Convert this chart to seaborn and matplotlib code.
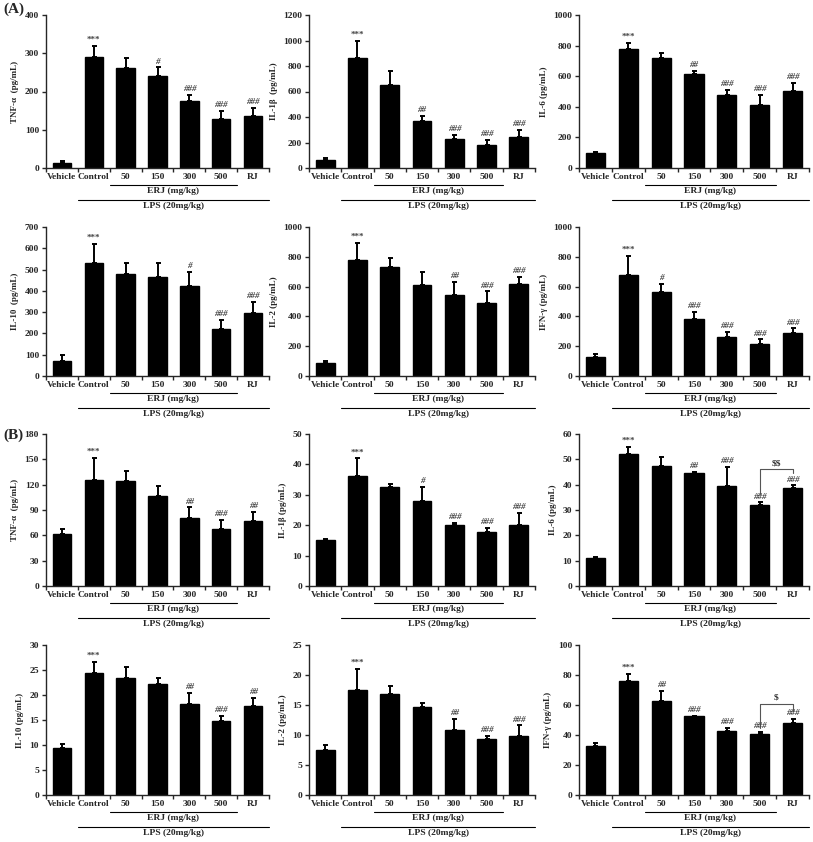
import numpy as np
import matplotlib
matplotlib.use("Agg")
import matplotlib.pyplot as plt
import matplotlib.transforms as mtransforms
import seaborn as sns

# ==========================================
# DATA
# ==========================================

groups = ["Vehicle", "Control", "50", "150", "300", "500", "RJ"]

# (A)
a_tnf_mean = [13, 290, 262, 241, 174, 128, 136]
a_tnf_sd = [5, 30, 25, 22, 16, 22, 22]
a_tnf_sig = ["", "***", "", "#", "###", "###", "###"]

a_il1b_mean = [61, 860, 652, 372, 228, 182, 242]
a_il1b_sd = [15, 140, 105, 38, 34, 36, 56]
a_il1b_sig = ["", "***", "", "##", "###", "###", "###"]

a_il6_mean = [95, 780, 722, 613, 475, 410, 505]
a_il6_sd = [10, 38, 30, 19, 33, 65, 50]
a_il6_sig = ["", "***", "", "##", "###", "###", "###"]

a_il10_mean = [72, 530, 478, 463, 425, 220, 298]
a_il10_sd = [25, 90, 54, 69, 65, 45, 50]
a_il10_sig = ["", "***", "", "", "#", "###", "###"]

a_il2_mean = [88, 780, 732, 612, 543, 492, 617]
a_il2_sd = [15, 115, 58, 83, 87, 76, 48]
a_il2_sig = ["", "***", "", "", "##", "###", "###"]

a_ifng_mean = [130, 678, 565, 385, 262, 212, 287]
a_ifng_sd = [18, 127, 53, 45, 36, 33, 33]
a_ifng_sig = ["", "***", "#", "###", "###", "###", "###"]

# (B)
b_tnf_mean = [61, 126, 124, 106, 80, 67, 77]
b_tnf_sd = [6, 26, 12, 13, 13, 11, 11]
b_tnf_sig = ["", "***", "", "", "##", "###", "##"]

b_il1b_mean = [15.1, 36.3, 32.5, 28.0, 20.1, 17.6, 20.0]
b_il1b_sd = [0.5, 5.7, 1.2, 4.5, 0.7, 1.4, 4.0]
b_il1b_sig = ["", "***", "", "#", "###", "###", "###"]

b_il6_mean = [11.0, 52.2, 47.5, 44.5, 39.5, 32.0, 38.5]
b_il6_sd = [0.4, 2.8, 3.3, 0.5, 7.5, 1.0, 1.2]
b_il6_sig = ["", "***", "", "##", "###", "###", "###"]

b_il10_mean = [9.5, 24.5, 23.5, 22.2, 18.3, 14.9, 17.8]
b_il10_sd = [0.8, 2.1, 2.2, 1.2, 2.1, 0.9, 1.7]
b_il10_sig = ["", "***", "", "", "##", "###", "##"]

b_il2_mean = [7.5, 17.5, 16.8, 14.6, 10.9, 9.3, 9.9]
b_il2_sd = [0.9, 3.5, 1.4, 0.7, 1.8, 0.5, 1.7]
b_il2_sig = ["", "***", "", "", "##", "###", "###"]

b_ifng_mean = [33.0, 75.7, 63.0, 52.5, 42.5, 41.0, 48.0]
b_ifng_sd = [1.5, 5.3, 6.5, 0.5, 2.5, 0.8, 3.0]
b_ifng_sig = ["", "***", "##", "###", "###", "###", "###"]

# ==========================================
# STYLE
# ==========================================

sns.set_style("ticks")
plt.rcParams['font.family'] = ['Liberation Serif', 'DejaVu Serif']
plt.rcParams['font.weight'] = 'bold'
plt.rcParams['axes.linewidth'] = 1.0
plt.rcParams['text.parse_math'] = False

W, H = 813, 842
fig = plt.figure(figsize=(W / 100, H / 100), dpi=100)

FS = 6.8


def px_axes(x0, x1, ytop, ybot):
    return fig.add_axes([x0 / W, 1 - ybot / H, (x1 - x0) / W, (ybot - ytop) / H])


def panel(ax, mean, sd, sig, ymax, ystep, ylabel, bracket=None):
    sns.barplot(x=groups, y=mean, color="black", width=0.58,
                errorbar=None, saturation=1, ax=ax, edgecolor="black")
    xs = np.arange(len(groups))
    ax.errorbar(xs, mean, yerr=[np.zeros(len(sd)), sd], fmt="none",
                ecolor="black", elinewidth=1.4, capsize=1.8, capthick=1.4)

    ax.set_xlim(-0.5, 6.5)
    ax.set_ylim(0, ymax)
    ax.set_yticks(np.arange(0, ymax + ystep / 2, ystep))
    ax.tick_params(axis="y", labelsize=FS, length=3, width=1, pad=2)
    for t in ax.get_yticklabels():
        t.set_fontweight("bold")

    # boundary ticks on x axis, labels at centres
    ax.set_xticks(np.arange(-0.5, 7, 1))
    ax.set_xticklabels([])
    ax.tick_params(axis="x", length=3, width=1)
    ax.set_xticks(xs, minor=True)
    ax.set_xticklabels(groups, minor=True, fontsize=FS, fontweight="bold")
    ax.tick_params(axis="x", which="minor", length=0, pad=3.5)

    sns.despine(ax=ax)
    ax.set_xlabel("")
    ax.set_ylabel(ylabel, fontsize=6.5, fontweight="bold", labelpad=4)

    # significance marks
    off = ymax * 0.012
    for i in range(len(groups)):
        if sig[i]:
            style = "normal" if sig[i].startswith("*") else "italic"
            ax.text(i, mean[i] + sd[i] + off, sig[i], ha="center", va="bottom",
                    fontsize=6.5, color="#444444", style=style)

    if bracket is not None:
        ytop, yl, yr, lab = bracket
        ax.plot([5, 5, 6, 6], [yl, ytop, ytop, yr], color="#555555", lw=0.8)
        ax.text(5.5, ytop + off, lab, ha="center", va="bottom",
                fontsize=FS, color="#333333")

    # group lines under axis
    trans = mtransforms.blended_transform_factory(ax.transData, ax.transAxes)
    axh = ax.get_position().height * H
    y_erj = -17 / axh
    y_lps = -32 / axh
    ax.plot([1.5, 5.5], [y_erj, y_erj], color="black", lw=0.8,
            transform=trans, clip_on=False)
    ax.text(3.5, y_erj - 2 / axh, "ERJ (mg/kg)", ha="center", va="top",
            fontsize=FS, fontweight="bold", transform=trans)
    ax.plot([0.5, 6.5], [y_lps, y_lps], color="black", lw=0.8,
            transform=trans, clip_on=False)
    ax.text(3.5, y_lps - 2 / axh, "LPS (20mg/kg)", ha="center", va="top",
            fontsize=FS, fontweight="bold", transform=trans)


cols = [(46, 269), (309, 535), (579, 809)]
rows = [(15, 168), (227, 376), (434, 586), (645, 795)]

panel(px_axes(*cols[0], *rows[0]), a_tnf_mean, a_tnf_sd, a_tnf_sig, 400, 100, "TNF-α  (pg/mL)")
panel(px_axes(*cols[1], *rows[0]), a_il1b_mean, a_il1b_sd, a_il1b_sig, 1200, 200, "IL-1β  (pg/mL)")
panel(px_axes(*cols[2], *rows[0]), a_il6_mean, a_il6_sd, a_il6_sig, 1000, 200, "IL-6 (pg/mL)")
panel(px_axes(*cols[0], *rows[1]), a_il10_mean, a_il10_sd, a_il10_sig, 700, 100, "IL-10  (pg/mL)")
panel(px_axes(*cols[1], *rows[1]), a_il2_mean, a_il2_sd, a_il2_sig, 1000, 200, "IL-2 (pg/mL)")
panel(px_axes(*cols[2], *rows[1]), a_ifng_mean, a_ifng_sd, a_ifng_sig, 1000, 200, "IFN-γ (pg/mL)")

panel(px_axes(*cols[0], *rows[2]), b_tnf_mean, b_tnf_sd, b_tnf_sig, 180, 30, "TNF-α  (pg/mL)")
panel(px_axes(*cols[1], *rows[2]), b_il1b_mean, b_il1b_sd, b_il1b_sig, 50, 10, "IL-1β (pg/mL)")
panel(px_axes(*cols[2], *rows[2]), b_il6_mean, b_il6_sd, b_il6_sig, 60, 10, "IL-6 (pg/mL)",
      bracket=(46, 36.5, 44.5, "$$"))
panel(px_axes(*cols[0], *rows[3]), b_il10_mean, b_il10_sd, b_il10_sig, 30, 5, "IL-10 (pg/mL)")
panel(px_axes(*cols[1], *rows[3]), b_il2_mean, b_il2_sd, b_il2_sig, 25, 5, "IL-2 (pg/mL)")
panel(px_axes(*cols[2], *rows[3]), b_ifng_mean, b_ifng_sd, b_ifng_sig, 100, 20, "IFN-γ (pg/mL)",
      bracket=(61, 45, 56, "$"))

fig.text(3 / W, 1 - 9 / H, "(A)", fontsize=11, fontweight="bold", va="center", ha="left")
fig.text(3 / W, 1 - 435 / H, "(B)", fontsize=11, fontweight="bold", va="center", ha="left")

fig.savefig("out.png", dpi=100)
